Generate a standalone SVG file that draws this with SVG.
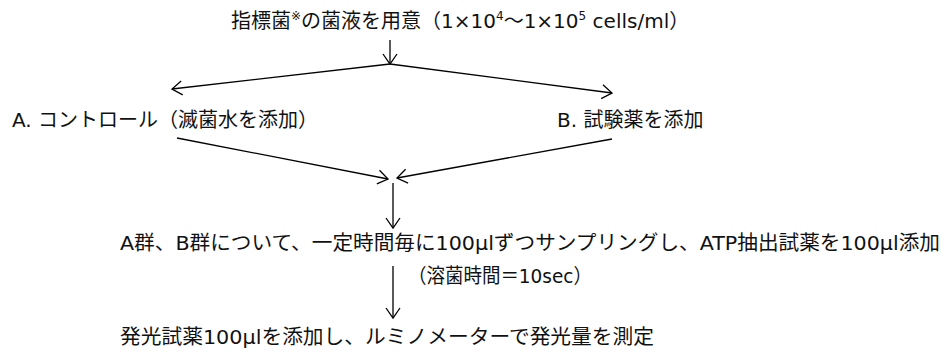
<svg xmlns="http://www.w3.org/2000/svg" width="947" height="354" viewBox="0 0 947 354">
<defs>
<marker id="ah" markerUnits="userSpaceOnUse" markerWidth="14" markerHeight="16" refX="11" refY="8" orient="auto">
<path d="M1,1 L11,8 L1,15" fill="none" stroke="#000" stroke-width="1.3"/>
</marker>
<style>
text{font-family:"DejaVu Sans","Noto Sans CJK JP",sans-serif;font-size:20px;fill:#111}
.c line{stroke:#000;stroke-width:1.3;marker-end:url(#ah)}
.sup{font-size:12px}
</style>
</defs>
<rect width="947" height="354" fill="#fff"/>
<g id="n1"><text x="231" y="28">指標菌<tspan class="sup" dy="-8">※</tspan><tspan dy="8">の菌液を用意（1×10</tspan><tspan class="sup" dy="-8">4</tspan><tspan dy="8">～1×10</tspan><tspan class="sup" dy="-8">5</tspan><tspan dy="8"> cells/ml）</tspan></text></g>
<g id="nA"><text x="12" y="127">A. コントロール（滅菌水を添加）</text></g>
<g id="nB"><text x="557" y="127">B. 試験薬を添加</text></g>
<g id="n3"><text x="120" y="250" textLength="820" lengthAdjust="spacingAndGlyphs">A群、B群について、一定時間毎に100μlずつサンプリングし、ATP抽出試薬を100μl添加</text></g>
<g id="n3b"><text x="408" y="283" textLength="184" lengthAdjust="spacingAndGlyphs">（溶菌時間＝10sec）</text></g>
<g id="n4"><text x="120" y="344" textLength="534" lengthAdjust="spacingAndGlyphs">発光試薬100μlを添加し、ルミノメーターで発光量を測定</text></g>
<g class="c" id="connectors">
<line x1="390" y1="40" x2="390" y2="64"/>
<line x1="390" y1="64" x2="172" y2="89"/>
<line x1="390" y1="64" x2="612" y2="93"/>
<line x1="177" y1="138" x2="388" y2="179"/>
<line x1="612" y1="139" x2="397" y2="178"/>
<line x1="393" y1="183" x2="393" y2="228"/>
<line x1="393" y1="266" x2="393" y2="318"/>
</g>
</svg>
